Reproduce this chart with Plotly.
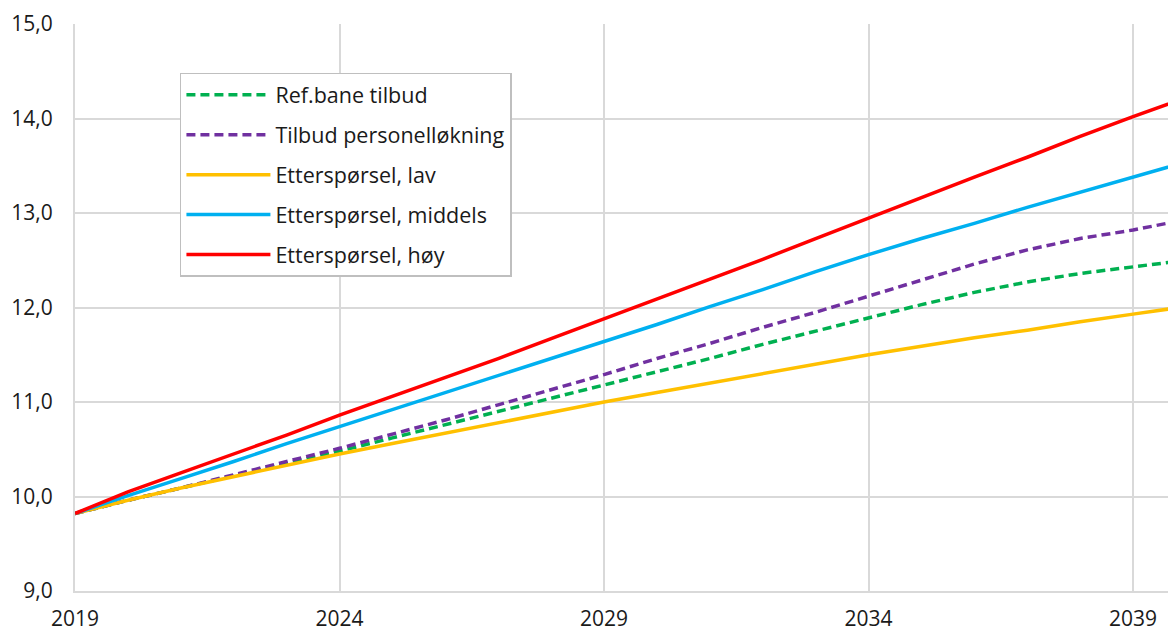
import plotly.graph_objects as go

years = list(range(2019, 2041))

ref_tilbud = [9.82, 9.96, 10.09, 10.22, 10.35, 10.48, 10.62, 10.76, 10.90, 11.04, 11.18,
              11.32, 11.46, 11.61, 11.75, 11.89, 12.03, 12.16, 12.27, 12.36, 12.43, 12.50]
tilbud_personell = [9.82, 9.96, 10.09, 10.23, 10.37, 10.51, 10.66, 10.81, 10.97, 11.13, 11.29,
                    11.46, 11.62, 11.79, 11.95, 12.12, 12.29, 12.46, 12.61, 12.73, 12.82, 12.93]
ettersporsel_lav = [9.82, 9.96, 10.09, 10.21, 10.33, 10.45, 10.56, 10.67, 10.78, 10.89, 11.00,
                    11.10, 11.20, 11.30, 11.40, 11.50, 11.59, 11.68, 11.76, 11.85, 11.93, 12.01]
ettersporsel_middels = [9.82, 10.01, 10.19, 10.37, 10.56, 10.74, 10.92, 11.10, 11.28, 11.46, 11.64,
                        11.82, 12.01, 12.19, 12.38, 12.56, 12.73, 12.89, 13.06, 13.22, 13.38, 13.54]
ettersporsel_hoy = [9.82, 10.05, 10.25, 10.45, 10.65, 10.86, 11.06, 11.26, 11.46, 11.67, 11.88,
                    12.09, 12.30, 12.51, 12.73, 12.95, 13.16, 13.38, 13.59, 13.81, 14.02, 14.22]

x_ticks = [2019, 2024, 2029, 2034, 2039]

series = [
    ("Ref.bane tilbud", ref_tilbud, "#00b050", "9px,5px"),
    ("Tilbud personelløkning", tilbud_personell, "#7030a0", "9px,5px"),
    ("Etterspørsel, lav", ettersporsel_lav, "#ffc000", "solid"),
    ("Etterspørsel, middels", ettersporsel_middels, "#00b0f0", "solid"),
    ("Etterspørsel, høy", ettersporsel_hoy, "#ff0000", "solid"),
]

fig = go.Figure()
for i, (name, vals, color, dash) in enumerate(series):
    fig.add_trace(go.Scatter(
        x=years, y=vals, name=name, mode="lines", legendgroup=str(i),
        line=dict(color=color, width=3.5, dash=dash),
    ))

# the page body has an 8px margin, so the figure is sized to fit inside it
grid = "#d9d9d9"
fig.update_layout(
    width=1160, height=625,
    margin=dict(l=67, r=0, t=16, b=42),
    paper_bgcolor="white", plot_bgcolor="white",
    font=dict(family="Open Sans", size=21, color="#1a1a1a"),
    separators=",.",
    showlegend=True,
    legend=dict(
        x=0.096, y=0.914, xanchor="left", yanchor="top",
        bgcolor="white", bordercolor="#bfbfbf", borderwidth=1.5,
        font=dict(size=21.5), tracegroupgap=9, traceorder="grouped",
        itemwidth=84, entrywidth=330,
    ),
    xaxis=dict(
        range=[2019, 2039.66], tickvals=x_ticks, ticktext=[str(t) for t in x_ticks],
        showgrid=True, gridcolor=grid, gridwidth=2,
        showline=True, linecolor=grid, linewidth=2, zeroline=False,
        ticks="", ticklabelstandoff=8,
    ),
    yaxis=dict(
        range=[9, 15], dtick=1, tickformat=".1f",
        showgrid=True, gridcolor=grid, gridwidth=2,
        showline=True, linecolor=grid, linewidth=2, zeroline=False,
        ticks="", ticklabelstandoff=16,
    ),
)

fig.write_html("out.html")
